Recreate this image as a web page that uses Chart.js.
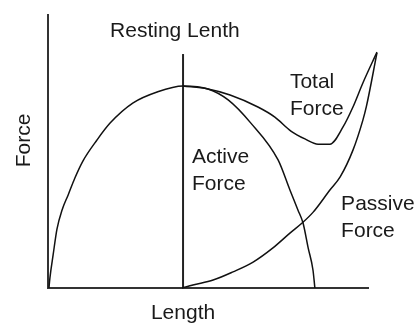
<!DOCTYPE html>
<html>
<head>
<meta charset="utf-8">
<script src="https://cdn.jsdelivr.net/npm/chart.js@4/dist/chart.umd.min.js"></script>
<style>
html,body{margin:0;padding:0;background:#fff;}
#wrap{width:416px;height:323px;}
</style>
</head>
<body>
<div id="wrap"><canvas id="c" width="416" height="323"></canvas></div>
<script>
// Length (x) and Force (y) in arbitrary units, axes 0..100
const activeX  = [0.3, 0.6, 1.6, 2.8, 4.4, 6.3, 8.4, 10.9, 15.3, 19.4, 26.6, 34.1, 42.2, 50.0, 56.3, 63.4, 71.9, 75.6, 78.1, 79.7, 81.3, 82.8, 83.4];
const activeY  = [0, 3.7, 12.1, 21.6, 28.6, 34.1, 40.3, 46.5, 54.2, 60.4, 67.8, 71.8, 74.0, 72.9, 68.9, 60.4, 46.9, 35.9, 28.6, 23.8, 14.7, 6.6, 0];
const passiveX = [41.9, 45.3, 51.6, 57.8, 64.1, 70.3, 75.6, 79.4, 82.8, 88.1, 91.3, 95.3, 98.4, 99.5, 102.8];
const passiveY = [0, 1.1, 2.9, 5.9, 9.5, 14.7, 20.1, 23.8, 27.7, 35.9, 40.7, 50.5, 61.5, 66.5, 86.1];
const totalX   = [42.2, 50.0, 56.9, 65.6, 70.9, 75.9, 80.3, 84.4, 88.1, 92.2, 95.3, 98.4, 102.8];
const totalY   = [74.0, 72.9, 70.7, 66.3, 62.6, 57.5, 54.6, 52.7, 52.7, 59.0, 66.3, 75.1, 86.4];
const restingX = [42.2, 42.2];
const restingY = [0, 85.7];

const axisTitles = {x: "Length", y: "Force"};
const labels = [
  {lines: ["Resting Lenth"], x: 19.4, y: 92.0},
  {lines: ["Total", "Force"], x: 75.6, y: 73.3},
  {lines: ["Active", "Force"], x: 45.0, y: 45.8},
  {lines: ["Passive", "Force"], x: 91.6, y: 28.6}
];

const pts = (xs, ys) => xs.map((x, i) => ({x: x, y: ys[i]}));
const FONT = '21px "Liberation Sans", Arial, sans-serif';

const textPlugin = {
  id: 'texts',
  afterDraw(chart) {
    const ctx = chart.ctx, xs = chart.scales.x, ys = chart.scales.y, ca = chart.chartArea;
    ctx.save();
    ctx.font = FONT;
    ctx.fillStyle = '#1a1a1a';
    ctx.textBaseline = 'alphabetic';
    ctx.textAlign = 'left';
    labels.forEach(l => {
      const px = xs.getPixelForValue(l.x), py = ys.getPixelForValue(l.y);
      l.lines.forEach((t, i) => ctx.fillText(t, px, py + i * 27));
    });
    // x axis title
    ctx.textAlign = 'center';
    ctx.fillText(axisTitles.x, xs.getPixelForValue(42.2), ca.bottom + 31);
    // y axis title
    ctx.translate(ca.left - 18, (ca.top + ca.bottom) / 2 - 11);
    ctx.rotate(-Math.PI / 2);
    ctx.fillText(axisTitles.y, 0, 0);
    ctx.restore();
  }
};

const lineDs = (data, w, color) => ({
  data: data, borderColor: color, borderWidth: w, pointRadius: 0, fill: false,
  cubicInterpolationMode: 'monotone', clip: false, showLine: true
});

new Chart(document.getElementById('c'), {
  type: 'scatter',
  data: {
    datasets: [
      lineDs(pts(activeX, activeY), 1.5, '#111'),
      lineDs(pts(passiveX, passiveY), 1.5, '#111'),
      lineDs(pts(totalX, totalY), 1.5, '#111'),
      Object.assign(lineDs(pts(restingX, restingY), 2, '#222'), {cubicInterpolationMode: 'default', tension: 0})
    ]
  },
  options: {
    responsive: false,
    animation: false,
    devicePixelRatio: 1,
    layout: {padding: {left: 48, right: 48, top: 15, bottom: 35}},
    plugins: {legend: {display: false}, tooltip: {enabled: false}},
    scales: {
      x: {
        type: 'linear', min: 0, max: 100,
        ticks: {display: false}, grid: {display: false, drawTicks: false},
        border: {display: true, color: '#333', width: 2},
        afterFit: s => { s.height = 0; }
      },
      y: {
        type: 'linear', min: 0, max: 100,
        ticks: {display: false}, grid: {display: false, drawTicks: false},
        border: {display: true, color: '#333', width: 2},
        afterFit: s => { s.width = 0; }
      }
    }
  },
  plugins: [textPlugin]
});
</script>
</body>
</html>
